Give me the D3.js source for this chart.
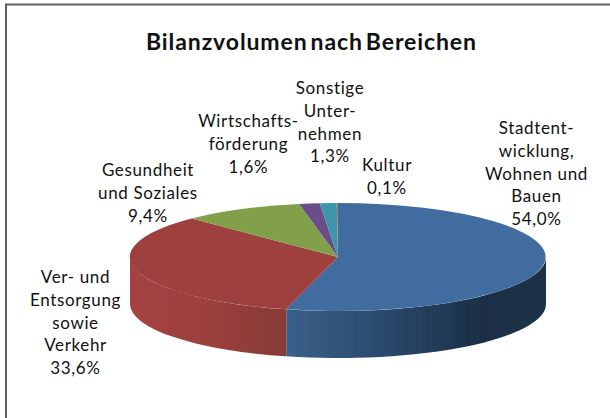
<!DOCTYPE html>
<html><head><meta charset="utf-8">
<style>html,body{margin:0;padding:0;background:#fff}svg{display:block}text{font-family:Lato,"Open Sans",sans-serif;fill:#111}</style>
<script src="https://cdn.jsdelivr.net/npm/d3@7"></script></head>
<body><svg id="c" width="610" height="418"></svg>
<script>
const title = "Bilanzvolumen nach Bereichen";
const categories = ["Stadtentwicklung, Wohnen und Bauen","Ver- und Entsorgung sowie Verkehr","Gesundheit und Soziales","Wirtschaftsförderung","Sonstige Unternehmen","Kultur"];
const values = [54.0,33.6,9.4,1.6,1.3,0.1];
const valueLabels = ["54,0%","33,6%","9,4%","1,6%","1,3%","0,1%"];
const labelLines = [["Stadtent-","wicklung,","Wohnen und","Bauen"],["Ver- und","Entsorgung","sowie","Verkehr"],["Gesundheit","und Soziales"],["Wirtschafts-","förderung"],["Sonstige","Unter-","nehmen"],["Kultur"]];
const topColors = ["#416c9f","#9e413e","#82a04a","#6a4e8a","#3d96ad","#a08060"];
const labelCentersX = [536.5,75.5,148,248.5,330,387];
const labelBaselinesY = [134,283,176,127,94,171];

const svg = d3.select("#c");
const defs = svg.append("defs");
const cx=338, cy=257, rx=208, ry=54, depth=47;

defs.append("filter").attr("id","soft").append("feGaussianBlur").attr("stdDeviation",0.4);

svg.append("path").attr("d","M6 418V4.5H610").attr("fill","none").attr("stroke","#5f5f5f").attr("stroke-width",2);
svg.append("text").attr("x",146).attr("y",49.5).attr("font-size",23).attr("font-weight",700)
  .attr("word-spacing",-3.5).attr("textLength",330).attr("lengthAdjust","spacing").text(title);

const pie = d3.pie().sort(null).value(d=>d)(values);
const X = d3.scaleLinear().domain([-1,1]).range([cx-rx,cx+rx]);
const Y = d3.scaleLinear().domain([-1,1]).range([cy-ry,cy+ry]);
const pt = a => [X(Math.sin(a)), Y(-Math.cos(a))];

function wall(a0,a1){
  const s=Math.max(a0,Math.PI/2), e=Math.min(a1,3*Math.PI/2);
  if(e<=s) return null;
  const p0=pt(s), p1=pt(e);
  return `M${p0[0]} ${p0[1]}A${rx} ${ry} 0 0 1 ${p1[0]} ${p1[1]}L${p1[0]} ${p1[1]+depth}A${rx} ${ry} 0 0 0 ${p0[0]} ${p0[1]+depth}Z`;
}
const wallStops=[
  [[0,"#3a5f8a"],[0.35,"#2c4b6e"],[0.75,"#1b2f47"],[1,"#1d3149"]],
  [[0,"#a44341"],[0.45,"#9e403d"],[1,"#873a34"]]
];
const pieG = svg.append("g").attr("filter","url(#soft)");
wallStops.forEach((stops,i)=>{
  const d=pie[i], s=Math.max(d.startAngle,Math.PI/2), e=Math.min(d.endAngle,3*Math.PI/2);
  const xa=[X(Math.sin(s)),X(Math.sin(e))];
  const g=defs.append("linearGradient").attr("id","w"+i).attr("gradientUnits","userSpaceOnUse")
    .attr("x1",d3.min(xa)).attr("x2",d3.max(xa)).attr("y1",0).attr("y2",0);
  stops.forEach(t=>g.append("stop").attr("offset",t[0]).attr("stop-color",t[1]));
  pieG.append("path").attr("d",wall(d.startAngle,d.endAngle)).attr("fill",`url(#w${i})`);
});

const arc=d3.arc().innerRadius(0).outerRadius(1);
pieG.append("g").attr("transform",`translate(${cx},${cy}) scale(${rx},${ry})`)
  .selectAll("path").data(pie).join("path").attr("d",arc).attr("fill",(d,i)=>topColors[i]);

const lh=22.8, fs=17;
const probe=svg.append("text").attr("font-size",fs).text("Wohnen und");
const tracking=(103-probe.node().getComputedTextLength())/10;
probe.remove();
labelLines.forEach((lines,i)=>{
  const t=svg.append("text").attr("text-anchor","middle").attr("font-size",fs).attr("letter-spacing",tracking);
  lines.concat([valueLabels[i]]).forEach((l,k)=>{
    t.append("tspan").attr("x",labelCentersX[i]).attr("y",labelBaselinesY[i]+k*lh).text(l);
  });
});
</script></body></html>
